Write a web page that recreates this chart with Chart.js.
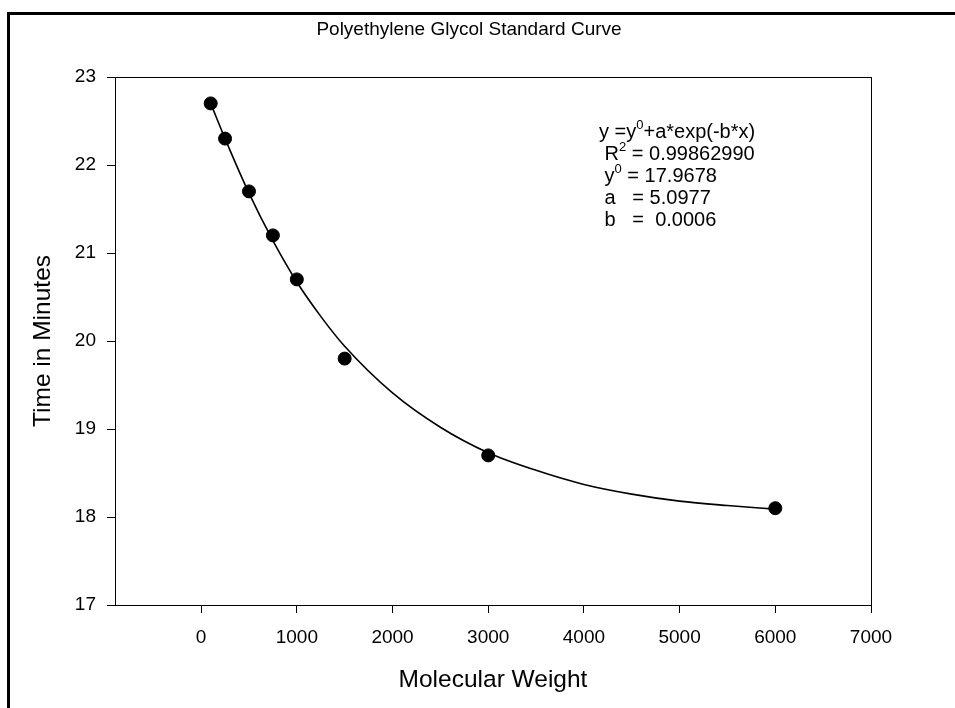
<!DOCTYPE html>
<html>
<head>
<meta charset="utf-8">
<script src="https://cdn.jsdelivr.net/npm/chart.js@4/dist/chart.umd.min.js"></script>
<style>
  body { margin: 0; background: #fff; }
  #wrap { position: relative; width: 955px; height: 708px; overflow: hidden; }
  #frame { position: absolute; left: 7px; top: 12px; width: 1000px; height: 800px;
           border-left: 3px solid #000; border-top: 3px solid #000; }
  canvas { position: absolute; left: 0; top: 0; }
</style>
</head>
<body>
<div id="wrap">
  <div id="frame"></div>
  <canvas id="chart" width="955" height="708"></canvas>
</div>
<script>
// mesures (poids moléculaire / temps de rétention)
const molWeight = [100, 250, 500, 750, 1000, 1500, 3000, 6000];
const timeMin = [22.7, 22.3, 21.7, 21.2, 20.7, 19.8, 18.7, 18.1];

// courbe d'ajustement
const curveX = [100, 250, 500, 750, 1000, 1250, 1500, 2000, 2500, 3000, 3500, 4000, 4500, 5000, 5500, 6000];
const curveY = [22.70, 22.30, 21.68, 21.14, 20.67, 20.28, 19.94, 19.41, 19.02, 18.73, 18.53, 18.37, 18.26, 18.18, 18.13, 18.09];

const xTicks = [0, 1000, 2000, 3000, 4000, 5000, 6000, 7000];
const yTicks = [17, 18, 19, 20, 21, 22, 23];

const chartTitle = 'Polyethylene Glycol Standard Curve';
const fitLines = [
  ['y =y', '0', '+a*exp(-b*x)'],
  [' R', '2', ' = 0.99862990'],
  [' y', '0', ' = 17.9678'],
  [' a   = 5.0977', '', ''],
  [' b   =  0.0006', '', '']
];

const FONT = "'Liberation Sans', Arial, sans-serif";

// cadre du graphique, titre et texte de l'équation
const boxPlugin = {
  id: 'box',
  afterDraw(chart) {
    const ctx = chart.ctx;
    const a = chart.chartArea;
    ctx.save();
    ctx.strokeStyle = '#000';
    ctx.lineWidth = 1;
    ctx.strokeRect(Math.round(a.left) + 0.5, Math.round(a.top) + 0.5,
                   Math.round(a.right - a.left), Math.round(a.bottom - a.top));

    ctx.fillStyle = '#000';
    ctx.font = '19px ' + FONT;
    ctx.textAlign = 'center';
    ctx.textBaseline = 'middle';
    ctx.fillText(chartTitle, 469, 30);

    ctx.textAlign = 'left';
    ctx.textBaseline = 'alphabetic';
    let y = 138;
    fitLines.forEach(l => {
      let x = 599;
      ctx.font = '20px ' + FONT;
      ctx.fillText(l[0], x, y);
      x += ctx.measureText(l[0]).width;
      if (l[1]) {
        ctx.font = '13px ' + FONT;
        ctx.fillText(l[1], x, y - 9);
        x += ctx.measureText(l[1]).width;
        ctx.font = '20px ' + FONT;
        ctx.fillText(l[2], x, y);
      }
      y += 22;
    });
    ctx.restore();
  }
};

const ctx = document.getElementById('chart').getContext('2d');
new Chart(ctx, {
  type: 'scatter',
  data: {
    datasets: [
      {
        label: 'fit',
        data: curveX.map((x, i) => ({ x: x, y: curveY[i] })),
        showLine: true,
        borderColor: '#000',
        borderWidth: 1.6,
        pointRadius: 0,
        cubicInterpolationMode: 'monotone',
        order: 2
      },
      {
        label: 'PEG',
        data: molWeight.map((x, i) => ({ x: x, y: timeMin[i] })),
        backgroundColor: '#000',
        borderColor: '#000',
        pointRadius: 6.5,
        order: 1
      }
    ]
  },
  options: {
    responsive: false,
    animation: false,
    devicePixelRatio: 1,
    layout: { padding: { left: 0, right: 84, top: 77, bottom: 0 } },
    plugins: {
      legend: { display: false },
      tooltip: { enabled: false },
      title: { display: false }
    },
    scales: {
      x: {
        type: 'linear',
        min: -900,
        max: 7000,
        afterBuildTicks: s => { s.ticks = xTicks.map(v => ({ value: v })); },
        afterFit: s => { s.height = 103; },
        grid: { display: true, drawOnChartArea: false, drawTicks: true, tickLength: 8, color: '#000' },
        border: { display: true, color: '#000', width: 1 },
        ticks: { color: '#000', font: { family: FONT, size: 19 }, padding: 13, maxRotation: 0,
                 callback: v => String(v) },
        title: {
          display: true,
          text: 'Molecular Weight',
          color: '#000',
          font: { family: FONT, size: 24.5 },
          padding: { top: 0, bottom: 13 }
        }
      },
      y: {
        type: 'linear',
        min: 17,
        max: 23,
        afterBuildTicks: s => { s.ticks = yTicks.map(v => ({ value: v })); },
        afterFit: s => { s.width = 115; },
        grid: { display: true, drawOnChartArea: false, drawTicks: true, tickLength: 8, color: '#000' },
        border: { display: true, color: '#000', width: 1 },
        ticks: { color: '#000', font: { family: FONT, size: 19 }, padding: 11,
                 callback: v => String(v) },
        title: {
          display: true,
          text: 'Time in Minutes',
          color: '#000',
          font: { family: FONT, size: 24.5 },
          padding: { top: 29, bottom: 0 }
        }
      }
    }
  },
  plugins: [boxPlugin]
});
</script>
</body>
</html>
